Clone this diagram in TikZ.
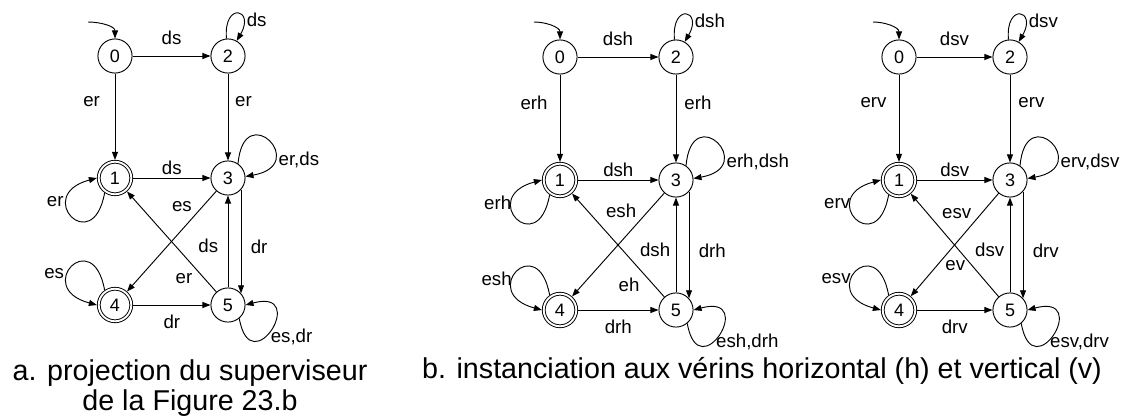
\documentclass[tikz,border=0pt]{standalone}
\usepackage{fontspec}
\setmainfont{Liberation Sans}
\usetikzlibrary{arrows.meta,positioning}

\begin{document}
\begin{tikzpicture}[x=0.75pt, y=-0.75pt,
    etat/.style={circle, draw, line width=0.7pt, minimum size=25.6pt, inner sep=0pt,
                 font=\fontsize{13.5}{15}\selectfont},
    etatfinal/.style={etat, double, double distance=1.4pt, minimum size=24.4pt, outer sep=1.4pt},
    trans/.style={-{Triangle[length=6pt,width=4.5pt]}, line width=0.7pt},
    etiq/.style={inner sep=1pt, font=\fontsize{14}{16}\selectfont},
    legende/.style={align=center, inner sep=0pt, font=\fontsize{21.5}{22.5}\selectfont}]
    \useasboundingbox (0,0) rectangle (1133,418);

    % a. projection
    \node[etat] (a0) at (115,56) {0};
    \node[etat] (a2) at (228,56) {2};
    \node[etatfinal] (a1) at (115,178) {1};
    \node[etat] (a3) at (228,178) {3};
    \node[etatfinal] (a4) at (115,305) {4};
    \node[etat] (a5) at (228,305) {5};
    \coordinate (a0in) at (88,22);

    \draw[trans] (a0in) to[out=0, in=90] (a0);
    \draw[trans] (a0) -- node[etiq, above=7pt] {ds} (a2);
    \draw[trans] (a0) -- node[etiq, pos=0.32, left=10pt] {er} (a1);
    \draw[trans] (a2) -- node[etiq, pos=0.32, right=4pt] {er} (a3);
    \draw[trans] (a1) -- node[etiq, above=1pt] {ds} (a3);
    \draw[trans] (a4) -- node[etiq, below=6pt] {dr} (a5);
    \draw[trans] (a5) -- node[etiq, pos=0.45, left=6pt] {ds} (a3);
    \draw[trans] (a3.-42) -- node[etiq, pos=0.55, right=6pt] {dr} (a5.42);
    \draw[trans] (a3) -- node[etiq, pos=0.15, left=7pt] {es} (a4);
    \draw[trans] (a5) -- node[etiq, pos=0.13, left=8pt] {er} (a1);

    \draw[trans] (a2.95) to[out=95, in=60, distance=28pt] node[etiq, pos=0.72, right=2pt] {ds} (a2.60);
    \draw[trans] (a3.55) to[out=85, in=10, distance=50pt] node[etiq, pos=0.75, right=3pt] {er,ds} (a3.5);
    \draw[trans] (a5.-50) to[out=-80, in=15, distance=50pt] node[etiq, pos=0.4, right=3pt] {es,dr} (a5.0);
    \draw[trans] (a1.-125) to[out=-100, in=-165, distance=50pt] node[etiq, pos=0.7, left=2pt] {er} (a1.180);
    \draw[trans] (a4.125) to[out=100, in=165, distance=50pt] node[etiq, pos=0.6, left=2pt] {es} (a4.180);

    % b. instanciation, verin horizontal
    \node[etat] (b0) at (560,57) {0};
    \node[etat] (b2) at (676,57) {2};
    \node[etatfinal] (b1) at (560,180) {1};
    \node[etat] (b3) at (676,180) {3};
    \node[etatfinal] (b4) at (560,310) {4};
    \node[etat] (b5) at (676,310) {5};
    \coordinate (b0in) at (534,22);

    \draw[trans] (b0in) to[out=0, in=90] (b0);
    \draw[trans] (b0) -- node[etiq, above=7pt] {dsh} (b2);
    \draw[trans] (b0) -- node[etiq, pos=0.32, left=8pt] {erh} (b1);
    \draw[trans] (b2) -- node[etiq, pos=0.32, right=5pt] {erh} (b3);
    \draw[trans] (b1) -- node[etiq, above=1pt] {dsh} (b3);
    \draw[trans] (b4) -- node[etiq, below=6pt] {drh} (b5);
    \draw[trans] (b5) -- node[etiq, pos=0.45, left=3pt] {dsh} (b3);
    \draw[trans] (b3.-42) -- node[etiq, pos=0.55, right=6pt] {drh} (b5.42);
    \draw[trans] (b3) -- node[etiq, pos=0.17, left=8pt] {esh} (b4);
    \draw[trans] (b5) -- node[etiq, pos=0.12, left=9pt] {eh} (b1);

    \draw[trans] (b2.95) to[out=95, in=60, distance=28pt] node[etiq, pos=0.72, right=2pt] {dsh} (b2.60);
    \draw[trans] (b3.55) to[out=85, in=10, distance=50pt] node[etiq, pos=0.75, right=3pt] {erh,dsh} (b3.5);
    \draw[trans] (b5.-50) to[out=-80, in=15, distance=50pt] node[etiq, pos=0.4, right=1pt] {esh,drh} (b5.0);
    \draw[trans] (b1.-125) to[out=-100, in=-165, distance=50pt] node[etiq, pos=0.7, left=0pt] {erh} (b1.180);
    \draw[trans] (b4.125) to[out=100, in=165, distance=50pt] node[etiq, pos=0.6, left=0pt] {esh} (b4.180);

    % b. instanciation, verin vertical
    \node[etat] (c0) at (899,57) {0};
    \node[etat] (c2) at (1010,57) {2};
    \node[etatfinal] (c1) at (899,180) {1};
    \node[etat] (c3) at (1010,180) {3};
    \node[etatfinal] (c4) at (899,310) {4};
    \node[etat] (c5) at (1010,310) {5};
    \coordinate (c0in) at (873,22);

    \draw[trans] (c0in) to[out=0, in=90] (c0);
    \draw[trans] (c0) -- node[etiq, above=7pt] {dsv} (c2);
    \draw[trans] (c0) -- node[etiq, pos=0.32, left=8pt] {erv} (c1);
    \draw[trans] (c2) -- node[etiq, pos=0.32, right=5pt] {erv} (c3);
    \draw[trans] (c1) -- node[etiq, above=1pt] {dsv} (c3);
    \draw[trans] (c4) -- node[etiq, below=6pt] {drv} (c5);
    \draw[trans] (c5) -- node[etiq, pos=0.45, left=3pt] {dsv} (c3);
    \draw[trans] (c3.-42) -- node[etiq, pos=0.55, right=6pt] {drv} (c5.42);
    \draw[trans] (c3) -- node[etiq, pos=0.2, left=6pt] {esv} (c4);
    \draw[trans] (c5) -- node[etiq, pos=0.3, left=4pt] {ev} (c1);

    \draw[trans] (c2.95) to[out=95, in=60, distance=28pt] node[etiq, pos=0.72, right=2pt] {dsv} (c2.60);
    \draw[trans] (c3.55) to[out=85, in=10, distance=50pt] node[etiq, pos=0.75, right=3pt] {erv,dsv} (c3.5);
    \draw[trans] (c5.-50) to[out=-80, in=15, distance=50pt] node[etiq, pos=0.4, right=1pt] {esv,drv} (c5.0);
    \draw[trans] (c1.-125) to[out=-100, in=-165, distance=50pt] node[etiq, pos=0.7, left=0pt] {erv} (c1.180);
    \draw[trans] (c4.125) to[out=100, in=165, distance=50pt] node[etiq, pos=0.6, left=0pt] {esv} (c4.180);

    % legendes
    \node[legende, anchor=base] (lega) at (190,410) {a. projection du superviseur\\de la Figure 23.b};
    \node[legende, anchor=base] (legb) at (762,378) {b. instanciation aux vérins horizontal (h) et vertical (v)};
\end{tikzpicture}
\end{document}
